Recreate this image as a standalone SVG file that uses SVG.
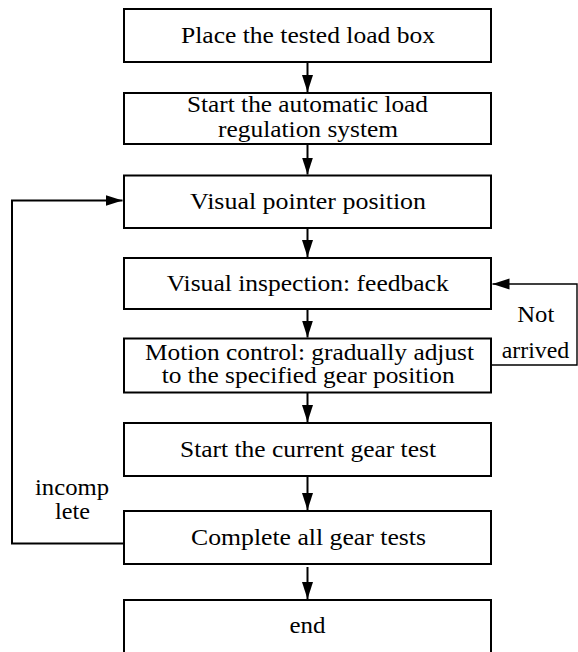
<svg xmlns="http://www.w3.org/2000/svg" width="578" height="652" viewBox="0 0 578 652">
  <style>
    .box { fill: #ffffff; stroke: #000000; stroke-width: 2; }
    text { font-family: 'Liberation Serif', 'Times New Roman', serif; font-size: 23px; fill: #000000; }
    .wire { fill: none; stroke: #000000; stroke-width: 2; }
    .thin { fill: none; stroke: #000000; stroke-width: 1.4; }
  </style>
  <defs>
    <marker id="arrow" markerUnits="userSpaceOnUse" markerWidth="18" markerHeight="12" refX="17" refY="5.5" orient="auto">
      <path d="M0,0 L17,5.5 L0,11 Z" fill="#000000"/>
    </marker>
  </defs>
  <rect width="578" height="652" fill="#ffffff"/>

  <!-- connectors -->
  <g id="connectors">
    <line class="wire" x1="307.5" y1="62" x2="307.5" y2="92" marker-end="url(#arrow)"/>
    <line class="wire" x1="307.5" y1="144" x2="307.5" y2="174.5" marker-end="url(#arrow)"/>
    <line class="wire" x1="307.5" y1="228" x2="307.5" y2="257" marker-end="url(#arrow)"/>
    <line class="wire" x1="307.5" y1="309" x2="307.5" y2="337.5" marker-end="url(#arrow)"/>
    <line class="wire" x1="307.5" y1="392.5" x2="307.5" y2="422" marker-end="url(#arrow)"/>
    <line class="wire" x1="307.5" y1="476" x2="307.5" y2="510" marker-end="url(#arrow)"/>
    <line class="wire" x1="307.5" y1="567" x2="307.5" y2="599" marker-end="url(#arrow)"/>
    <!-- "incomplete" loop back to the pointer step -->
    <polyline class="wire" points="124,543.5 12,543.5 12,200.5 122.5,200.5" marker-end="url(#arrow)"/>
    <!-- "Not arrived" feedback loop -->
    <polyline class="thin" points="491,365 577,365 577,284 492.5,284" marker-end="url(#arrow)"/>
    <text x="517.3" y="321.7" textLength="37" lengthAdjust="spacingAndGlyphs">Not</text>
    <text x="501.7" y="358.3" textLength="67.6" lengthAdjust="spacingAndGlyphs">arrived</text>
    <text x="35" y="495" textLength="74" lengthAdjust="spacingAndGlyphs">incomp</text>
    <text x="55" y="519.3" textLength="35" lengthAdjust="spacingAndGlyphs">lete</text>
  </g>

  <g id="place-box">
    <rect class="box" x="124" y="9" width="367" height="53"/>
    <text x="181" y="42.5" textLength="254" lengthAdjust="spacingAndGlyphs">Place the tested load box</text>
  </g>

  <g id="start-system">
    <rect class="box" x="124" y="93" width="367" height="51"/>
    <text x="187" y="111.5" textLength="241" lengthAdjust="spacingAndGlyphs">Start the automatic load</text>
    <text x="218" y="137" textLength="180" lengthAdjust="spacingAndGlyphs">regulation system</text>
  </g>

  <g id="pointer-position">
    <rect class="box" x="124" y="175.5" width="367" height="52.5"/>
    <text x="190" y="208.5" textLength="236" lengthAdjust="spacingAndGlyphs">Visual pointer position</text>
  </g>

  <g id="inspection-feedback">
    <rect class="box" x="124" y="258" width="367" height="51"/>
    <text x="166.7" y="290.5" textLength="282" lengthAdjust="spacingAndGlyphs">Visual inspection: feedback</text>
  </g>

  <g id="motion-control">
    <rect class="box" x="124" y="338.5" width="367" height="54"/>
    <text x="145" y="359.5" textLength="329" lengthAdjust="spacingAndGlyphs">Motion control: gradually adjust</text>
    <text x="161.7" y="382.7" textLength="293" lengthAdjust="spacingAndGlyphs">to the specified gear position</text>
  </g>

  <g id="gear-test">
    <rect class="box" x="124" y="423" width="367" height="53"/>
    <text x="180" y="456.5" textLength="256" lengthAdjust="spacingAndGlyphs">Start the current gear test</text>
  </g>

  <g id="all-tests">
    <rect class="box" x="124" y="511" width="367" height="53"/>
    <text x="191" y="544.5" textLength="235" lengthAdjust="spacingAndGlyphs">Complete all gear tests</text>
  </g>

  <g id="end">
    <rect class="box" x="124" y="600" width="367" height="56"/>
    <text x="289.5" y="633" textLength="36" lengthAdjust="spacingAndGlyphs">end</text>
  </g>
</svg>
